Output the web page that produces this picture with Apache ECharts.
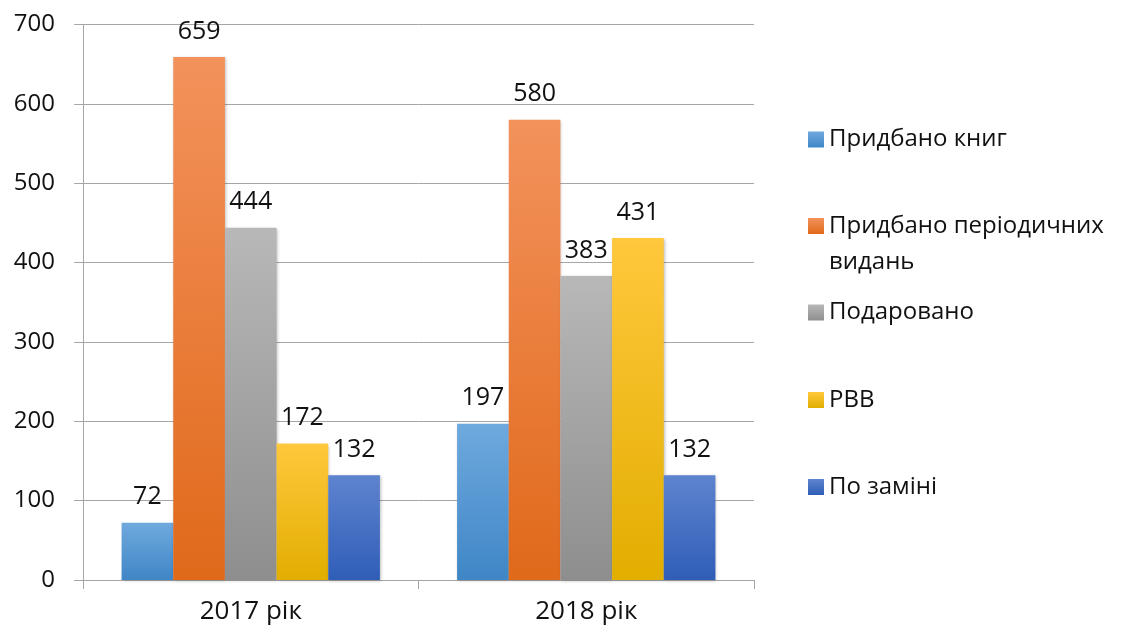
<!DOCTYPE html>
<html><head><meta charset="utf-8">
<script src="https://cdn.jsdelivr.net/npm/echarts@6/dist/echarts.min.js"></script>
<style>html,body{margin:0;padding:0;background:#fff}#c{width:1135px;height:630px}</style>
</head><body><div id="c"></div>
<script>
const categories = ['2017 рік', '2018 рік'];
const seriesNames = ['Придбано книг', 'Придбано періодичних видань', 'Подаровано', 'РВВ', 'По заміні'];
const booksBought = [72, 197];
const periodicalsBought = [659, 580];
const donated = [444, 383];
const rvv = [172, 431];
const exchanged = [132, 132];
const yTicks = [0, 100, 200, 300, 400, 500, 600, 700];

const values = [booksBought, periodicalsBought, donated, rvv, exchanged];
const grads = [
  ['#6FA9DE', '#3F86C6'],
  ['#F3925C', '#E0691A'],
  ['#B8B8B8', '#8E8E8E'],
  ['#FFC83D', '#E2AE00'],
  ['#5E84CF', '#2F5DB7']
];
const legendCenters = [139.5, 226, 312.5, 400, 487];
const FONT = 'Open Sans';

function grad(c) {
  return {type: 'linear', x: 0, y: 0, x2: 0, y2: 1, colorStops: [{offset: 0, color: c[0]}, {offset: 1, color: c[1]}]};
}

const series = seriesNames.map((n, i) => ({
  name: n,
  type: 'bar',
  data: values[i],
  barGap: '0%',
  barCategoryGap: '23%',
  itemStyle: {color: grad(grads[i]), shadowColor: 'rgba(0,0,0,0.25)', shadowBlur: 3, shadowOffsetX: 1, shadowOffsetY: 1},
  label: {show: true, position: 'top', distance: 13, color: '#111', fontSize: 25, fontFamily: FONT},
  emphasis: {disabled: true}
}));

const legends = seriesNames.map((n, i) => {
  const two = i === 1;
  return {
    left: 808,
    top: two ? legendCenters[i] - 54 : legendCenters[i] - 16,
    padding: 0,
    itemWidth: 16,
    itemHeight: 16,
    icon: 'rect',
    selectedMode: false,
    data: [n],
    formatter: two ? ' \nПридбано періодичних\nвидань' : '{name}',
    textStyle: {
      fontSize: 24, fontFamily: FONT, color: '#111',
      lineHeight: two ? 36 : 32
    }
  };
});

const chart = echarts.init(document.getElementById('c'));
chart.setOption({
  animation: false,
  backgroundColor: '#fff',
  legend: legends,
  grid: {left: 83, right: 381, top: 24.5, bottom: 50, containLabel: false},
  xAxis: {
    type: 'category',
    data: categories,
    axisLine: {lineStyle: {color: '#A6A6A6', width: 1}},
    axisTick: {show: true, length: 9, lineStyle: {color: '#A6A6A6'}},
    axisLabel: {fontSize: 26, fontFamily: FONT, color: '#111', margin: 19}
  },
  yAxis: {
    type: 'value',
    min: yTicks[0],
    max: yTicks[yTicks.length - 1],
    interval: 100,
    axisLine: {show: true, lineStyle: {color: '#A6A6A6', width: 1}},
    axisTick: {show: true, length: 9, lineStyle: {color: '#A6A6A6'}},
    splitLine: {lineStyle: {color: '#A6A6A6', width: 1}},
    axisLabel: {fontSize: 24, fontFamily: FONT, color: '#111', margin: 28}
  },
  series: series
});
</script></body></html>
